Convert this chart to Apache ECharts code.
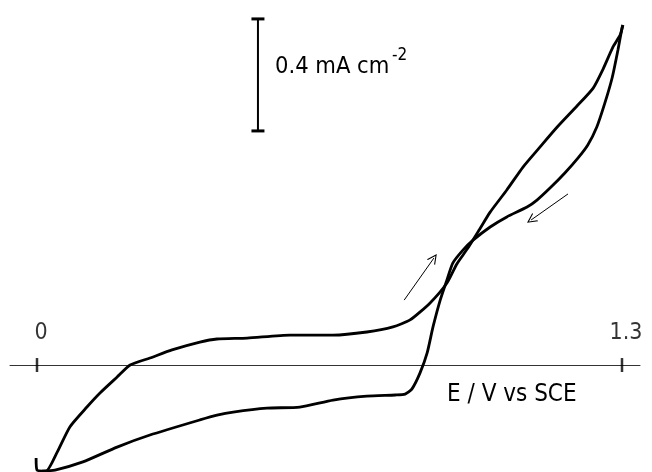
<!DOCTYPE html>
<html>
<head>
<meta charset="utf-8">
<script src="https://cdn.jsdelivr.net/npm/echarts@6/dist/echarts.min.js"></script>
<style>html,body{margin:0;padding:0;background:#fff;}#c{width:652px;height:472px;}</style>
</head>
<body>
<div id="c"></div>
<script>
// Potential E (V vs SCE) and current density j (mA cm^-2)
var forwardE = [-0.002, 0.000, 0.020, 0.044, 0.073, 0.111, 0.140, 0.178, 0.207, 0.251, 0.300, 0.362, 0.400, 0.467, 0.562, 0.658, 0.733, 0.791, 0.829, 0.873, 0.911, 0.933, 0.956, 0.984, 1.007, 1.044, 1.080, 1.118, 1.156, 1.200, 1.236, 1.258, 1.280, 1.296, 1.302];
var forwardJ = [-0.332, -0.375, -0.379, -0.314, -0.221, -0.150, -0.100, -0.043, 0.000, 0.025, 0.054, 0.082, 0.093, 0.096, 0.107, 0.107, 0.118, 0.136, 0.161, 0.221, 0.293, 0.361, 0.414, 0.486, 0.546, 0.625, 0.707, 0.779, 0.850, 0.925, 0.989, 1.057, 1.136, 1.179, 1.214];
var reverseE = [1.302, 1.300, 1.291, 1.278, 1.262, 1.244, 1.224, 1.202, 1.173, 1.140, 1.111, 1.089, 1.044, 1.007, 0.969, 0.947, 0.924, 0.911, 0.896, 0.880, 0.867, 0.851, 0.833, 0.818, 0.796, 0.733, 0.658, 0.584, 0.511, 0.436, 0.400, 0.362, 0.251, 0.178, 0.102, 0.040, 0.011];
var reverseJ = [1.214, 1.204, 1.125, 1.025, 0.936, 0.850, 0.786, 0.739, 0.686, 0.632, 0.589, 0.564, 0.529, 0.493, 0.446, 0.411, 0.364, 0.304, 0.232, 0.136, 0.043, -0.029, -0.086, -0.104, -0.107, -0.111, -0.125, -0.150, -0.154, -0.168, -0.179, -0.196, -0.250, -0.293, -0.346, -0.375, -0.379];
var tickValues = [0, 1.3];
var tickLabels = ['0', '1.3'];
var scaleBarE = 0.491;
var scaleBarJ = [0.836, 1.236];
var arrowUp = [[0.816, 0.232], [0.882, 0.382]];
var arrowDown = [[1.180, 0.611], [1.098, 0.518]];

function pairs(xs, ys) { return xs.map(function (x, i) { return [x, ys[i]]; }); }

var FONT = '"DejaVu Sans Condensed", "Liberation Sans Narrow", sans-serif';
var OPEN_ARROW = 'path://M0,10 L5,0 L10,10 L8.8,10 L5,2.4 L1.2,10 Z';
var chart = echarts.init(document.getElementById('c'));
var curveStyle = { color: '#000', width: 2.8 };
chart.setOption({
  animation: false,
  backgroundColor: '#fff',
  grid: { left: 10, right: 12, top: 15, bottom: 0, containLabel: false, outerBoundsMode: 'none' },
  xAxis: {
    type: 'value', min: -0.06, max: 1.34,
    axisLine: { show: true, onZero: true, lineStyle: { color: '#333', width: 1 } },
    axisTick: { show: false }, axisLabel: { show: false }, splitLine: { show: false }
  },
  yAxis: {
    type: 'value', min: -0.382, max: 1.25, show: false,
    splitLine: { show: false }
  },
  graphic: [
    { type: 'text', left: 275, top: 55, style: { text: '0.4 mA cm', font: '23.5px ' + FONT, fill: '#000' } },
    { type: 'text', left: 392, top: 47, style: { text: '-2', font: '17px ' + FONT, fill: '#000' } },
    { type: 'text', left: 447, top: 383, style: { text: 'E / V vs SCE', font: '24px ' + FONT, fill: '#000' } }
  ],
  series: [
    { type: 'line', data: pairs(forwardE, forwardJ), showSymbol: false, smooth: 0.2, lineStyle: curveStyle, clip: false, z: 3,
      markLine: { silent: true, symbol: ['none', OPEN_ARROW], symbolSize: [10, 10], label: { show: false },
        lineStyle: { color: '#000', width: 1, type: 'solid' },
        data: [
          [{ coord: arrowUp[0] }, { coord: arrowUp[1] }],
          [{ coord: arrowDown[0] }, { coord: arrowDown[1] }]
        ] } },
    { type: 'line', data: pairs(reverseE, reverseJ), showSymbol: false, smooth: 0.2, lineStyle: curveStyle, clip: false, z: 3 },
    { type: 'line', data: scaleBarJ.map(function (j) { return [scaleBarE, j]; }), showSymbol: true, symbol: 'rect', symbolSize: [13, 3],
      itemStyle: { color: '#000' }, lineStyle: { color: '#000', width: 2 }, z: 4 },
    { type: 'scatter', data: tickValues.map(function (v, i) { return { value: [v, 0], name: tickLabels[i] }; }),
      symbol: 'rect', symbolSize: [2.5, 14], itemStyle: { color: '#000' }, z: 5,
      label: { show: true, position: 'top', distance: 13, offset: [4, 0], formatter: function (p) { return p.name; },
        fontFamily: FONT, fontSize: 23, color: '#000' } }
  ]
});
</script>
</body>
</html>
